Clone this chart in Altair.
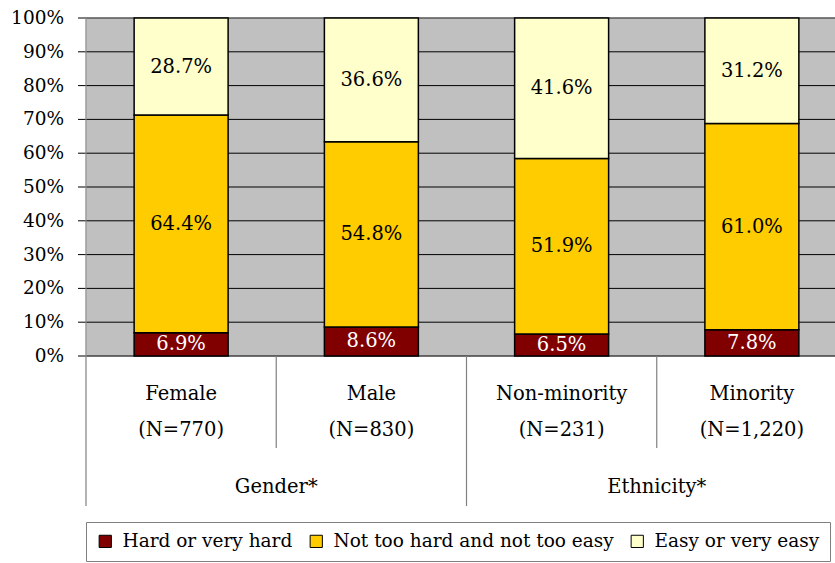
import altair as alt
import pandas as pd

categories = ["Female", "Male", "Non-minority", "Minority"]
n_labels = ["(N=770)", "(N=830)", "(N=231)", "(N=1,220)"]
groups = ["Gender*", "Ethnicity*"]
group_centers = [1, 3]
levels = ["Hard or very hard", "Not too hard and not too easy", "Easy or very easy"]
hard = [6.9, 8.6, 6.5, 7.8]
middle = [64.4, 54.8, 51.9, 61.0]
easy = [28.7, 36.6, 41.6, 31.2]
colors = ["#800000", "#FFCC00", "#FFFFCC"]
boundaries = [0, 1, 2, 3, 4]
long_bounds = [True, False, True, False, True]
y_ticks = list(range(0, 101, 10))

rows = []
for i, c in enumerate(categories):
    for k, (lvl, vals) in enumerate(zip(levels, [hard, middle, easy])):
        rows.append({"cat": c, "idx": i, "level": lvl, "ord": k, "value": vals[i]})
df = pd.DataFrame(rows)

cat_df = pd.DataFrame({"cat": categories, "n": n_labels, "idx": list(range(len(categories)))})
grp_df = pd.DataFrame({"g": groups, "pos": group_centers})
sep_df = pd.DataFrame({"pos": boundaries, "long": long_bounds})
tick_df = pd.DataFrame({"t": y_ticks})

FONT = "DejaVu Serif"
FS = 19.5
PLOT_W = 749
PLOT_H = 338
xs = alt.Scale(domain=[0, 4 * PLOT_W / 761], nice=False, zero=False)
ys = alt.Scale(domain=[0, 100], nice=False)

# manual y-axis: grid lines, tick marks, tick labels
grid = alt.Chart(tick_df).mark_rule(color="black", strokeWidth=1).encode(
    y=alt.Y("t:Q", scale=ys, axis=None), x=alt.value(0), x2=alt.value(PLOT_W)
)
ticks = alt.Chart(tick_df).mark_rule(color="black", strokeWidth=1).encode(
    y=alt.Y("t:Q", scale=ys, axis=None), x=alt.value(-8), x2=alt.value(0)
)
tick_labels = alt.Chart(tick_df).transform_calculate(
    lab="datum.t + '%'"
).mark_text(font=FONT, fontSize=18.5, align="right", baseline="middle", color="black").encode(
    y=alt.Y("t:Q", scale=ys, axis=None), x=alt.value(-22), text="lab:N"
)

base = alt.Chart(df).transform_stack(
    stack="value", groupby=["cat"], as_=["y0", "y1"], sort=[alt.SortField("ord")]
).transform_calculate(
    x0="datum.idx + 0.253",
    x1="datum.idx + 0.747",
    xm="datum.idx + 0.5",
    ym="(datum.y0 + datum.y1) / 2",
    label="format(datum.value, '.1f') + '%'",
)

bars = base.mark_bar(stroke="black", strokeWidth=1.5).encode(
    x=alt.X("x0:Q", scale=xs, axis=None),
    x2="x1:Q",
    y=alt.Y("y0:Q", scale=ys, axis=None),
    y2="y1:Q",
    color=alt.Color(
        "level:N",
        scale=alt.Scale(domain=levels, range=colors),
        legend=alt.Legend(
            title=None,
            orient="none",
            legendX=0,
            legendY=504,
            direction="horizontal",
            strokeColor="#808080",
            fillColor="white",
            padding=10,
            symbolType="square",
            symbolSize=150,
            symbolStrokeColor="black",
            symbolStrokeWidth=1,
            labelFontSize=18.5,
            labelFont=FONT,
            labelColor="black",
            labelLimit=0,
            columnPadding=14,
            labelOffset=8,
        ),
    ),
)

labels = base.mark_text(font=FONT, fontSize=FS, baseline="middle").encode(
    x=alt.X("xm:Q", scale=xs, axis=None),
    y=alt.Y("ym:Q", scale=ys, axis=None),
    text="label:N",
    color=alt.condition("datum.ord == 0", alt.value("white"), alt.value("black")),
)

cat_text = alt.Chart(cat_df).transform_calculate(xm="datum.idx + 0.5").mark_text(
    font=FONT, fontSize=FS, baseline="middle", color="black"
).encode(x=alt.X("xm:Q", scale=xs, axis=None), y=alt.value(376), text="cat:N")

n_text = alt.Chart(cat_df).transform_calculate(xm="datum.idx + 0.5").mark_text(
    font=FONT, fontSize=FS, baseline="middle", color="black"
).encode(x=alt.X("xm:Q", scale=xs, axis=None), y=alt.value(412), text="n:N")

grp_text = alt.Chart(grp_df).mark_text(
    font=FONT, fontSize=FS, baseline="middle", color="black"
).encode(x=alt.X("pos:Q", scale=xs, axis=None), y=alt.value(469), text="g:N")

sep_long = alt.Chart(sep_df).transform_filter("datum.long").transform_calculate(
    top="datum.pos == 0 ? 100 : 0"
).mark_rule(color="#808080", strokeWidth=1.2).encode(
    x=alt.X("pos:Q", scale=xs, axis=None),
    y=alt.Y("top:Q", scale=ys, axis=None),
    y2=alt.value(488),
)

sep_short = alt.Chart(sep_df).transform_filter("!datum.long").mark_rule(
    color="#808080", strokeWidth=1.2
).encode(x=alt.X("pos:Q", scale=xs, axis=None), y=alt.value(PLOT_H), y2=alt.value(430))

chart = alt.layer(
    grid, ticks, tick_labels, bars, labels, cat_text, n_text, grp_text, sep_long, sep_short
).properties(
    width=PLOT_W,
    height=PLOT_H,
    autosize=alt.AutoSizeParams(type="none"),
    padding={"left": 86, "top": 18, "right": 0, "bottom": 207},
).configure(font=FONT).configure_view(fill="#C0C0C0", stroke="transparent")

chart.save("out.html", embed_options={"renderer": "svg", "actions": False})
